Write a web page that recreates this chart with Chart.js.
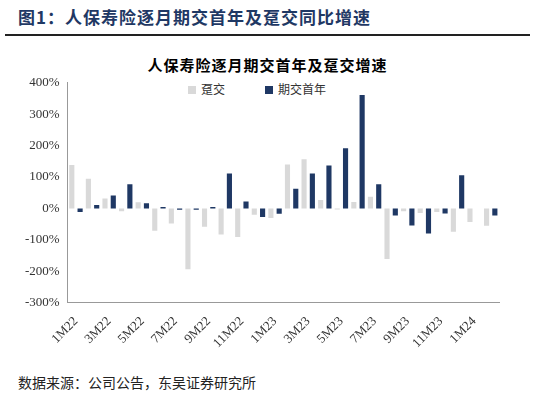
<!DOCTYPE html>
<html><head><meta charset="utf-8">
<script src="https://cdn.jsdelivr.net/npm/chart.js@4"></script>
<style>
body{margin:0;width:535px;height:417px;background:#fff;position:relative;overflow:hidden;font-family:"Noto Sans CJK SC",serif}
#hd{position:absolute;left:18px;top:4px;font-size:17px;font-weight:bold;color:#1f3864;letter-spacing:1px}
#ln{position:absolute;left:5px;right:5px;top:34px;border-top:2px solid #222}
#tt{position:absolute;left:0;width:535px;text-align:center;top:54px;font-size:15px;font-weight:bold;color:#000;letter-spacing:1px}
#lg{position:absolute;left:188px;top:80px;font-size:12px;color:#333}
#lg span{display:inline-block;width:8px;height:8px;margin-right:5px}
#wrap{position:absolute;left:0;top:72px;width:535px;height:282px}
#ft{position:absolute;left:18px;top:372px;font-size:14px;color:#222}
</style></head><body>
<div id="hd">图1：人保寿险逐月期交首年及趸交同比增速</div>
<div id="ln"></div>
<div id="tt">人保寿险逐月期交首年及趸交增速</div>
<div id="lg"><span style="background:#d9d9d9"></span>趸交<span style="background:#1f3864;margin-left:40px"></span>期交首年</div>
<div id="wrap"><canvas id="c"></canvas></div>
<div id="ft">数据来源：公司公告，东吴证券研究所</div>
<script>
const months = ['1M22','2M22','3M22','4M22','5M22','6M22','7M22','8M22','9M22','10M22','11M22','12M22',
  '1M23','2M23','3M23','4M23','5M23','6M23','7M23','8M23','9M23','10M23','11M23','12M23','1M24','2M24'];
const single = [138,95,32,-9,20,-71,-48,-193,-58,-83,-91,-20,-30,140,157,27,-3,21,37,-161,-9,-14,-11,-74,-43,-55];
const regular = [-11,11,41,77,17,5,-4,-4,5,111,22,-27,-17,63,111,137,192,361,77,-22,-54,-80,-16,106,null,-22];
const yTicks = [-300,-200,-100,0,100,200,300,400];

new Chart(document.getElementById('c'), {
  type: 'bar',
  data: {
    labels: months,
    datasets: [
      {label:'趸交', data: single, backgroundColor:'#d9d9d9', barPercentage:0.62, categoryPercentage:1},
      {label:'期交首年', data: regular, backgroundColor:'#1f3864', barPercentage:0.62, categoryPercentage:1}
    ]
  },
  options: {
    responsive:true, maintainAspectRatio:false, animation:false,
    layout:{padding:{left:22,right:36,top:6,bottom:0}},
    plugins:{legend:{display:false}, tooltip:{enabled:false}},
    scales:{
      x:{grid:{display:false, drawTicks:true}, border:{color:'#999'},
        ticks:{autoSkip:false, maxRotation:45, minRotation:45, color:'#333',
          font:{family:'"Liberation Serif"', size:13},
          callback:(v,i)=> i%2===0 ? months[i] : ''}},
      y:{min:-300, max:400, afterBuildTicks:ax=>{ax.ticks=yTicks.map(v=>({value:v}));},
        grid:{display:false, drawTicks:true, tickLength:5}, border:{color:'#999'},
        ticks:{color:'#333', font:{family:'"Liberation Serif"', size:13}, callback:v=>v+'%'}}
    }
  }
});
</script>
</body></html>
